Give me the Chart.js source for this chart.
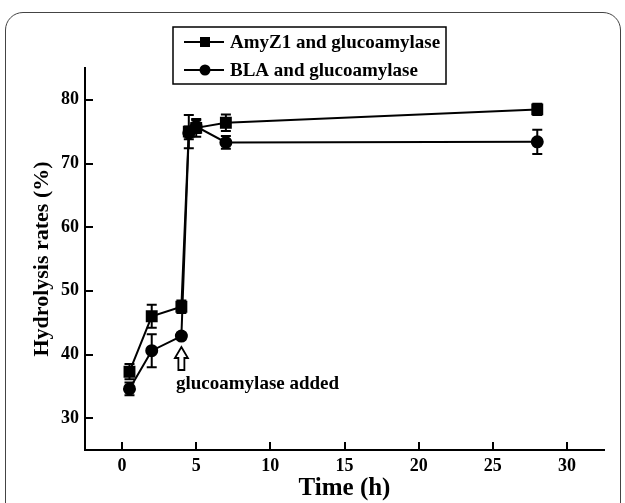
<!DOCTYPE html>
<html>
<head>
<meta charset="utf-8">
<script src="https://cdn.jsdelivr.net/npm/chart.js@4/dist/chart.umd.min.js"></script>
<style>
  html, body { margin: 0; padding: 0; background: #fff; }
  #wrap { position: relative; width: 625px; height: 503px; overflow: hidden; }
  #frame { position: absolute; left: 5px; top: 12px; width: 616px; height: 540px;
           border: 1.2px solid #444; border-radius: 18px; box-sizing: border-box; }
  canvas { position: absolute; left: 0; top: 0; }
</style>
</head>
<body>
<div id="wrap">
  <div id="frame"></div>
  <canvas id="c" width="625" height="503"></canvas>
</div>
<script>
// ---- data ----
const timeH    = [0.5, 2, 4, 4.5, 5, 7, 28];
const amyz1    = [37.3, 46.0, 47.5, 75.0, 75.6, 76.4, 78.5];
const amyz1Err = [1.2, 1.8, 1.0, 2.6, 1.4, 1.3, 0.9];
const bla      = [34.6, 40.6, 42.9, 74.8, 75.8, 73.3, 73.4];
const blaErr   = [1.0, 2.6, 0.5, 1.0, 1.0, 1.0, 1.9];
const xTicks   = [0, 5, 10, 15, 20, 25, 30];
const yTicks   = [30, 40, 50, 60, 70, 80];
const seriesNames = ['AmyZ1 and glucoamylase', 'BLA and glucoamylase'];
const xTitle = 'Time (h)';
const yTitle = 'Hydrolysis rates (%)';
const noteText = 'glucoamylase added';
const noteX = 4; // arrow points at this time value

const FONT = '"Liberation Serif", "Times New Roman", serif';

function pts(xs, ys) { return xs.map((x, i) => ({ x: x, y: ys[i] })); }

const errPlugin = {
  id: 'errbars',
  beforeDatasetsDraw(chart) {
    const ctx = chart.ctx, ys = chart.scales.y;
    const errs = [amyz1Err, blaErr];
    const vals = [amyz1, bla];
    ctx.save();
    ctx.strokeStyle = '#000';
    ctx.lineWidth = 2;
    chart.data.datasets.forEach((ds, i) => {
      const meta = chart.getDatasetMeta(i);
      meta.data.forEach((el, j) => {
        const x = el.x;
        const yt = ys.getPixelForValue(vals[i][j] + errs[i][j]);
        const yb = ys.getPixelForValue(vals[i][j] - errs[i][j]);
        ctx.beginPath();
        ctx.moveTo(x, yt); ctx.lineTo(x, yb);
        ctx.moveTo(x - 5, yt); ctx.lineTo(x + 5, yt);
        ctx.moveTo(x - 5, yb); ctx.lineTo(x + 5, yb);
        ctx.stroke();
      });
    });
    ctx.restore();
  }
};

const decoPlugin = {
  id: 'deco',
  afterDraw(chart) {
    const ctx = chart.ctx, xs = chart.scales.x, ys = chart.scales.y;
    const ca = chart.chartArea;
    ctx.save();
    ctx.strokeStyle = '#000';
    ctx.fillStyle = '#000';
    ctx.lineWidth = 2;
    // inside tick marks
    ctx.beginPath();
    xTicks.forEach(v => {
      const px = Math.round(xs.getPixelForValue(v));
      ctx.moveTo(px, ca.bottom); ctx.lineTo(px, ca.bottom - 8);
    });
    yTicks.forEach(v => {
      const py = Math.round(ys.getPixelForValue(v));
      ctx.moveTo(ca.left, py); ctx.lineTo(ca.left + 8, py);
    });
    ctx.stroke();

    // axis titles
    ctx.font = 'bold 25px ' + FONT;
    ctx.textAlign = 'center';
    ctx.textBaseline = 'middle';
    ctx.fillText(xTitle, (ca.left + ca.right) / 2, 489);
    ctx.save();
    ctx.translate(42, (ca.top + ca.bottom) / 2);
    ctx.rotate(-Math.PI / 2);
    ctx.font = 'bold 22px ' + FONT;
    ctx.fillText(yTitle, 0, 0);
    ctx.restore();

    // legend
    ctx.lineWidth = 1.5;
    ctx.strokeRect(173, 27, 273, 57);
    ctx.font = 'bold 19px ' + FONT;
    ctx.textAlign = 'left';
    const rows = [42, 70];
    rows.forEach((ry, i) => {
      ctx.lineWidth = 2;
      ctx.beginPath();
      ctx.moveTo(184, ry); ctx.lineTo(224, ry);
      ctx.stroke();
      if (i === 0) {
        ctx.fillRect(200, ry - 5, 10, 10);
      } else {
        ctx.beginPath(); ctx.arc(205, ry, 5.5, 0, Math.PI * 2); ctx.fill();
      }
      ctx.fillText(seriesNames[i], 230, ry + 1);
    });

    // annotation arrow + text
    const ax = xs.getPixelForValue(noteX);
    const top = 347, headB = 358, bot = 370;
    ctx.lineWidth = 1.8;
    ctx.fillStyle = '#fff';
    ctx.beginPath();
    ctx.moveTo(ax, top);
    ctx.lineTo(ax + 6.5, headB);
    ctx.lineTo(ax + 3, headB);
    ctx.lineTo(ax + 3, bot);
    ctx.lineTo(ax - 3, bot);
    ctx.lineTo(ax - 3, headB);
    ctx.lineTo(ax - 6.5, headB);
    ctx.closePath();
    ctx.fill(); ctx.stroke();
    ctx.fillStyle = '#000';
    ctx.font = 'bold 19px ' + FONT;
    ctx.textBaseline = 'middle';
    ctx.fillText(noteText, 176, 384);
    ctx.restore();
  }
};

new Chart(document.getElementById('c'), {
  type: 'scatter',
  data: {
    datasets: [
      { label: seriesNames[0], data: pts(timeH, amyz1), showLine: true,
        borderColor: '#000', backgroundColor: '#000', borderWidth: 2,
        pointStyle: 'rect', pointRadius: 7, pointHoverRadius: 7 },
      { label: seriesNames[1], data: pts(timeH, bla), showLine: true,
        borderColor: '#000', backgroundColor: '#000', borderWidth: 2,
        pointStyle: 'circle', pointRadius: 5.5, pointHoverRadius: 5.5 }
    ]
  },
  options: {
    responsive: false,
    animation: false,
    devicePixelRatio: 1,
    layout: { padding: { top: 68, right: 21, left: 0, bottom: 0 } },
    plugins: { legend: { display: false }, tooltip: { enabled: false }, title: { display: false } },
    scales: {
      x: {
        type: 'linear', min: -2.5, max: 32.5,
        afterBuildTicks: s => { s.ticks = xTicks.map(v => ({ value: v })); },
        afterFit: s => { s.height = 53; },
        grid: { display: true, drawOnChartArea: false, drawTicks: false },
        border: { display: true, color: '#000', width: 2 },
        ticks: { color: '#000', padding: 6, maxRotation: 0, autoSkip: false,
                 font: { family: FONT, size: 18, weight: 'bold' } }
      },
      y: {
        type: 'linear', min: 25, max: 85,
        afterBuildTicks: s => { s.ticks = yTicks.map(v => ({ value: v })); },
        afterFit: s => { s.width = 85; },
        grid: { display: true, drawOnChartArea: false, drawTicks: false },
        border: { display: true, color: '#000', width: 2 },
        ticks: { color: '#000', padding: 6, autoSkip: false,
                 font: { family: FONT, size: 18, weight: 'bold' } }
      }
    }
  },
  plugins: [errPlugin, decoPlugin]
});
</script>
</body>
</html>
